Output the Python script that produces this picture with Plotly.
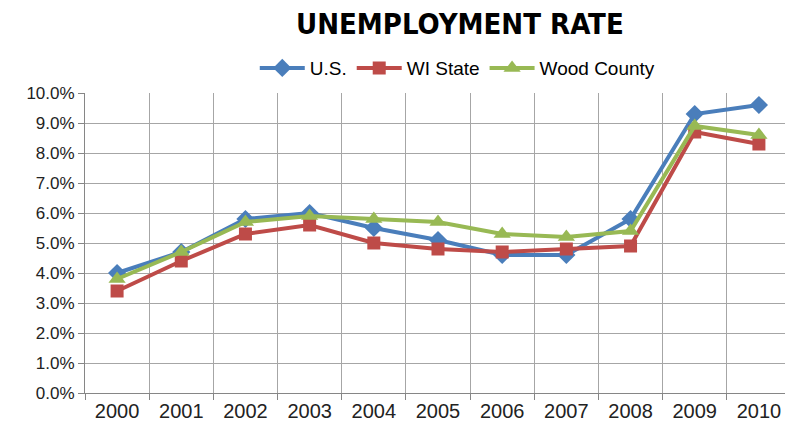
import plotly.graph_objects as go

years = ["2000", "2001", "2002", "2003", "2004", "2005", "2006", "2007", "2008", "2009", "2010"]
us = [4.0, 4.7, 5.8, 6.0, 5.5, 5.1, 4.6, 4.6, 5.8, 9.3, 9.6]
wi = [3.4, 4.4, 5.3, 5.6, 5.0, 4.8, 4.7, 4.8, 4.9, 8.7, 8.3]
wood = [3.8, 4.7, 5.7, 5.9, 5.8, 5.7, 5.3, 5.2, 5.4, 8.9, 8.6]
yticks = [0, 1, 2, 3, 4, 5, 6, 7, 8, 9, 10]

fig = go.Figure()
fig.add_trace(go.Scatter(x=years, y=us, name="U.S.", mode="lines+markers",
                         line=dict(color="#4A7EBB", width=4),
                         marker=dict(symbol="diamond", size=14, color="#4A7EBB")))
fig.add_trace(go.Scatter(x=years, y=wi, name="WI State", mode="lines+markers",
                         line=dict(color="#BE4B48", width=4),
                         marker=dict(symbol="square", size=13, color="#BE4B48")))
fig.add_trace(go.Scatter(x=years, y=wood, name="Wood County", mode="lines+markers",
                         line=dict(color="#98B954", width=4),
                         marker=dict(symbol="triangle-up", size=15, color="#98B954")))

fig.update_layout(
    width=785, height=421,
    margin=dict(l=77, r=2, t=85, b=36, autoexpand=False),
    paper_bgcolor="white", plot_bgcolor="white",
    title=dict(text="<b>UNEMPLOYMENT RATE</b>", xref="paper", x=0.531, xanchor="center",
               yref="container", y=0.962, yanchor="middle",
               font=dict(family="DejaVu Sans Condensed", size=29, color="#000000")),
    legend=dict(orientation="h", xref="paper", x=0.528, xanchor="center", y=1.083, yanchor="middle",
                font=dict(family="Liberation Sans", size=19, color="#000000"),
                itemwidth=45, traceorder="normal"),
    font=dict(family="Liberation Sans", size=17, color="#333333"),
)
fig.update_xaxes(type="category", tickson="boundaries", showgrid=True, gridcolor="#A6A6A6", gridwidth=1,
                 showline=True, linecolor="#868686", linewidth=1,
                 ticks="outside", ticklen=6, tickcolor="#868686",
                 tickfont=dict(family="Liberation Sans", size=20, color="#222222"),
                 range=[-0.5, 10.5], automargin=False)
fig.update_yaxes(range=[0, 10], tickvals=yticks, ticktext=[f"{v:.1f}%" for v in yticks],
                 showgrid=True, gridcolor="#A6A6A6", gridwidth=1,
                 showline=True, linecolor="#868686", linewidth=1,
                 ticks="outside", ticklen=6, tickcolor="#868686",
                 tickfont=dict(family="Liberation Sans", size=17, color="#222222"),
                 zeroline=False, automargin=False)

fig.write_html("out.html")
